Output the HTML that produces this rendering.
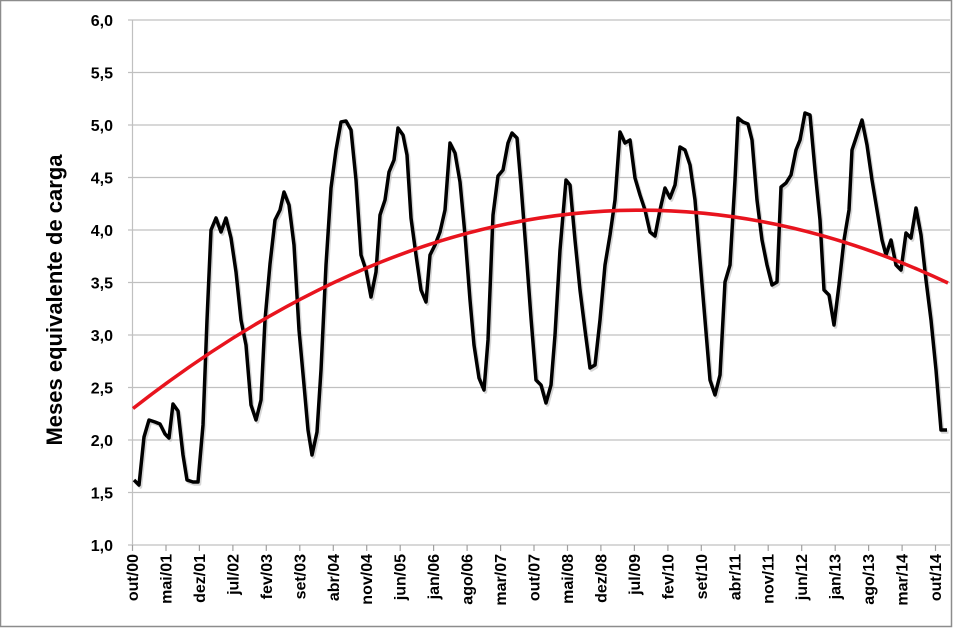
<!DOCTYPE html>
<html><head><meta charset="utf-8"><style>
html,body{margin:0;padding:0;background:#fff;}
svg{display:block;font-family:"Liberation Sans",sans-serif;}
</style></head><body>
<svg width="964" height="628" viewBox="0 0 964 628" xmlns="http://www.w3.org/2000/svg">
<rect x="0.5" y="0.5" width="951" height="626" fill="#fff" stroke="#8c8c8c" stroke-width="1.5"/>
<g stroke="#c0c0c0" stroke-width="1.2">
<line x1="128" y1="20" x2="950" y2="20"/>
<line x1="128" y1="72.5" x2="950" y2="72.5"/>
<line x1="128" y1="125" x2="950" y2="125"/>
<line x1="128" y1="177.5" x2="950" y2="177.5"/>
<line x1="128" y1="230" x2="950" y2="230"/>
<line x1="128" y1="282.5" x2="950" y2="282.5"/>
<line x1="128" y1="335" x2="950" y2="335"/>
<line x1="128" y1="387.5" x2="950" y2="387.5"/>
<line x1="128" y1="440" x2="950" y2="440"/>
<line x1="128" y1="492.5" x2="950" y2="492.5"/>
<line x1="128" y1="545" x2="950" y2="545"/>
<line x1="132.5" y1="20" x2="132.5" y2="545"/>
</g>
<g stroke="#a0a0a0" stroke-width="1.2">
<line x1="132.5" y1="545" x2="132.5" y2="551"/><line x1="166" y1="545" x2="166" y2="551"/><line x1="199.4" y1="545" x2="199.4" y2="551"/><line x1="232.9" y1="545" x2="232.9" y2="551"/><line x1="266.3" y1="545" x2="266.3" y2="551"/><line x1="299.8" y1="545" x2="299.8" y2="551"/><line x1="333.3" y1="545" x2="333.3" y2="551"/><line x1="366.7" y1="545" x2="366.7" y2="551"/><line x1="400.2" y1="545" x2="400.2" y2="551"/><line x1="433.6" y1="545" x2="433.6" y2="551"/><line x1="467.1" y1="545" x2="467.1" y2="551"/><line x1="500.6" y1="545" x2="500.6" y2="551"/><line x1="534" y1="545" x2="534" y2="551"/><line x1="567.5" y1="545" x2="567.5" y2="551"/><line x1="600.9" y1="545" x2="600.9" y2="551"/><line x1="634.4" y1="545" x2="634.4" y2="551"/><line x1="667.9" y1="545" x2="667.9" y2="551"/><line x1="701.3" y1="545" x2="701.3" y2="551"/><line x1="734.8" y1="545" x2="734.8" y2="551"/><line x1="768.2" y1="545" x2="768.2" y2="551"/><line x1="801.7" y1="545" x2="801.7" y2="551"/><line x1="835.2" y1="545" x2="835.2" y2="551"/><line x1="868.6" y1="545" x2="868.6" y2="551"/><line x1="902.1" y1="545" x2="902.1" y2="551"/><line x1="935.5" y1="545" x2="935.5" y2="551"/>
</g>
<g font-size="16" font-weight="bold" text-anchor="end" fill="#000">
<text x="113" y="26">6,0</text>
<text x="113" y="78.5">5,5</text>
<text x="113" y="131">5,0</text>
<text x="113" y="183.5">4,5</text>
<text x="113" y="236">4,0</text>
<text x="113" y="288.5">3,5</text>
<text x="113" y="341">3,0</text>
<text x="113" y="393.5">2,5</text>
<text x="113" y="446">2,0</text>
<text x="113" y="498.5">1,5</text>
<text x="113" y="551">1,0</text>
</g>
<text transform="translate(62,300) rotate(-90)" font-size="22" font-weight="bold" text-anchor="middle">Meses equivalente de carga</text>
<g font-size="16" font-weight="bold" text-anchor="end">
<text transform="translate(138,554) rotate(-90)">out/00</text>
<text transform="translate(171.5,554) rotate(-90)">mai/01</text>
<text transform="translate(204.9,554) rotate(-90)">dez/01</text>
<text transform="translate(238.4,554) rotate(-90)">jul/02</text>
<text transform="translate(271.8,554) rotate(-90)">fev/03</text>
<text transform="translate(305.3,554) rotate(-90)">set/03</text>
<text transform="translate(338.8,554) rotate(-90)">abr/04</text>
<text transform="translate(372.2,554) rotate(-90)">nov/04</text>
<text transform="translate(405.7,554) rotate(-90)">jun/05</text>
<text transform="translate(439.1,554) rotate(-90)">jan/06</text>
<text transform="translate(472.6,554) rotate(-90)">ago/06</text>
<text transform="translate(506.1,554) rotate(-90)">mar/07</text>
<text transform="translate(539.5,554) rotate(-90)">out/07</text>
<text transform="translate(573,554) rotate(-90)">mai/08</text>
<text transform="translate(606.4,554) rotate(-90)">dez/08</text>
<text transform="translate(639.9,554) rotate(-90)">jul/09</text>
<text transform="translate(673.4,554) rotate(-90)">fev/10</text>
<text transform="translate(706.8,554) rotate(-90)">set/10</text>
<text transform="translate(740.3,554) rotate(-90)">abr/11</text>
<text transform="translate(773.7,554) rotate(-90)">nov/11</text>
<text transform="translate(807.2,554) rotate(-90)">jun/12</text>
<text transform="translate(840.7,554) rotate(-90)">jan/13</text>
<text transform="translate(874.1,554) rotate(-90)">ago/13</text>
<text transform="translate(907.6,554) rotate(-90)">mar/14</text>
<text transform="translate(941,554) rotate(-90)">out/14</text>
</g>
<polyline fill="none" stroke="#bbb" stroke-width="3.5" stroke-linejoin="round" transform="translate(1.5,2)" opacity="0.6" points="134,480 139,485 144,437 149,420 155,422 160,424 165,434 169,438 173,404 178,411 183,455 187,480 193,482 198,482 203,425 207,320 211,230 216,218 221,232 226,218 231,238 236,272 241,320 246,345 251,405 256,420 261,400 265,320 270,264 275,220 280,210 284,192 289,205 294,245 299,330 304,385 308,430 312,455 317,432 321,370 326,265 331,188 336,150 341,122 346,121 351,130 356,180 361,255 366,270 371,297 376,272 380,215 385,200 389,172 394,160 398,128 403,135 407,155 411,218 416,255 421,290 426,302 430,255 435,245 440,232 445,210 450,143 455,153 460,182 465,235 470,300 474,345 479,378 484,390 488,340 493,215 498,176 503,170 508,143 512,133 517,138 521,185 526,250 531,318 536,380 541,385 546,403 551,385 555,335 560,250 566,180 570,185 575,240 580,290 585,330 590,368 595,365 600,320 605,265 610,235 615,200 620,132 625,143 630,140 635,178 640,195 645,210 650,232 655,236 660,210 665,188 670,198 675,185 680,147 685,150 690,165 695,200 700,260 705,320 710,380 715,395 720,375 725,282 730,265 735,180 738,118 743,122 748,124 752,140 757,200 762,240 767,265 772,285 777,282 781,187 786,183 791,175 796,150 800,140 805,113 810,115 815,170 820,220 824,290 829,295 834,325 839,285 844,240 849,210 852,150 857,135 862,120 867,145 872,180 877,210 882,240 886,255 891,240 896,265 901,270 906,233 911,238 916,208 921,235 926,280 931,320 936,370 941,430 947,430"/>
<polyline fill="none" stroke="#000" stroke-width="3.5" stroke-linejoin="round" points="134,480 139,485 144,437 149,420 155,422 160,424 165,434 169,438 173,404 178,411 183,455 187,480 193,482 198,482 203,425 207,320 211,230 216,218 221,232 226,218 231,238 236,272 241,320 246,345 251,405 256,420 261,400 265,320 270,264 275,220 280,210 284,192 289,205 294,245 299,330 304,385 308,430 312,455 317,432 321,370 326,265 331,188 336,150 341,122 346,121 351,130 356,180 361,255 366,270 371,297 376,272 380,215 385,200 389,172 394,160 398,128 403,135 407,155 411,218 416,255 421,290 426,302 430,255 435,245 440,232 445,210 450,143 455,153 460,182 465,235 470,300 474,345 479,378 484,390 488,340 493,215 498,176 503,170 508,143 512,133 517,138 521,185 526,250 531,318 536,380 541,385 546,403 551,385 555,335 560,250 566,180 570,185 575,240 580,290 585,330 590,368 595,365 600,320 605,265 610,235 615,200 620,132 625,143 630,140 635,178 640,195 645,210 650,232 655,236 660,210 665,188 670,198 675,185 680,147 685,150 690,165 695,200 700,260 705,320 710,380 715,395 720,375 725,282 730,265 735,180 738,118 743,122 748,124 752,140 757,200 762,240 767,265 772,285 777,282 781,187 786,183 791,175 796,150 800,140 805,113 810,115 815,170 820,220 824,290 829,295 834,325 839,285 844,240 849,210 852,150 857,135 862,120 867,145 872,180 877,210 882,240 886,255 891,240 896,265 901,270 906,233 911,238 916,208 921,235 926,280 931,320 936,370 941,430 947,430"/>
<path fill="none" stroke="#e8141e" stroke-width="3.5" d="M133,408.5 Q540.5,90 948,283"/>
</svg>
</body></html>
